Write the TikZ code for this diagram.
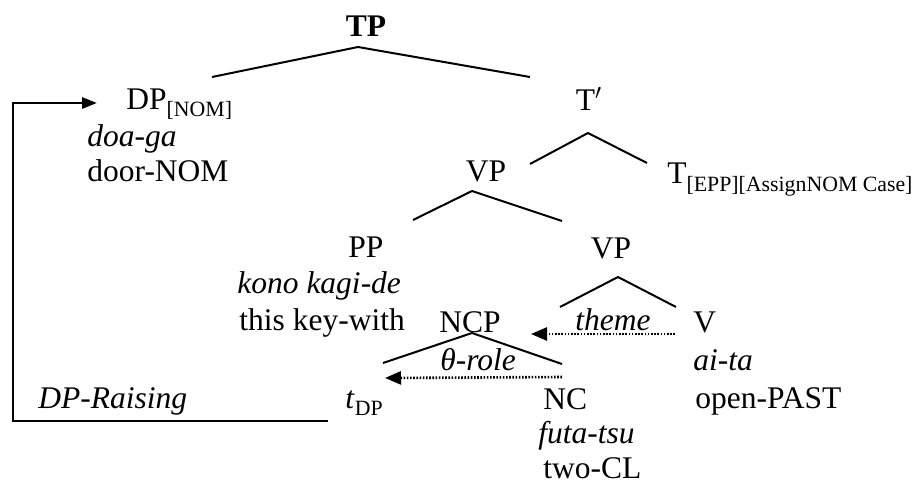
\documentclass[tikz,border=0pt]{standalone}
\usepackage{fontspec}
\setmainfont{Liberation Serif}
\usetikzlibrary{arrows.meta}
\newcommand{\feat}[1]{\raisebox{-0.23em}{\fontsize{10.9}{12}\selectfont #1}}

\begin{document}
\begin{tikzpicture}[x=0.5pt, y=-0.5pt, every node/.style={font=\fontsize{15.75}{18}\selectfont, inner sep=0pt}, cat/.style={anchor=base}, word/.style={anchor=base west}, branch/.style={line width=1pt}, raise/.style={-{Triangle[length=7.5pt,width=5.5pt]}, line width=1.4pt}, role/.style={-{Triangle[length=8pt,width=6.5pt]}, line width=1.3pt, dash pattern=on 0.8pt off 0.8pt}]
\useasboundingbox (0,0) rectangle (912,482);
% labels of the tree
\node[cat] (TP) at (366,37) {\textbf{TP}};
\node[word] (DP) at (126,109) {DP\feat{[NOM]}};
\node[word] (doaga) at (87,146) {\textit{doa-ga}};
\node[word] (door) at (87,181) {door-NOM};
\node[cat] (Tbar) at (589,110) {T$'$};
\node[word] (T) at (667,184) {T\feat{[EPP][AssignNOM Case]}};
\node[cat] (VPa) at (486,181) {VP};
\node[cat] (PP) at (366,257) {PP};
\node[word] (kono) at (237,293) {\textit{kono kagi-de}};
\node[word] (thiskey) at (239,330) {this key-with};
\node[cat] (VPb) at (611,258) {VP};
\node[cat] (NCP) at (470,332) {NCP};
\node[word] (V) at (693,332) {V};
\node[word] (aita) at (693,370) {\textit{ai-ta}};
\node[word] (open) at (695,408) {open-PAST};
\node[word] (NC) at (543,409) {NC};
\node[word] (futa) at (538,443) {\textit{futa-tsu}};
\node[word] (twocl) at (543,478) {two-CL};
\node[word] (tDP) at (345,408) {\textit{t}\feat{DP}};
\node[word] (raising) at (38,408) {\textit{DP-Raising}};
\node[word] (theme) at (575,330) {\textit{theme}};
\node[word] (trole) at (440,370) {\textit{θ-role}};
% branch points
\coordinate (tp-a) at (358,47);
\coordinate (tp-l) at (212,77);
\coordinate (tp-r) at (530,77);
\coordinate (tb-a) at (588,133);
\coordinate (tb-l) at (530,164);
\coordinate (tb-r) at (647,163);
\coordinate (va-a) at (472,191);
\coordinate (va-l) at (413,220);
\coordinate (va-r) at (562,221);
\coordinate (vb-a) at (618,277);
\coordinate (vb-l) at (560,307);
\coordinate (vb-r) at (676,307);
\coordinate (ncp-a) at (472,333);
\coordinate (ncp-l) at (383,363);
\coordinate (ncp-r) at (562,364);
\draw[branch] (tp-l) -- (tp-a) -- (tp-r);
\draw[branch] (tb-l) -- (tb-a) -- (tb-r);
\draw[branch] (va-l) -- (va-a) -- (va-r);
\draw[branch] (vb-l) -- (vb-a) -- (vb-r);
\draw[branch] (ncp-l) -- (ncp-a) -- (ncp-r);
% movement and roles
\coordinate (rise-s) at (328,421);
\coordinate (rise-c) at (13,421);
\coordinate (rise-e) at (97,103);
\draw[raise] (rise-s) -- (rise-c) |- (rise-e);
\coordinate (theme-s) at (675,334);
\coordinate (theme-e) at (531,334);
\draw[role] (theme-s) -- (theme-e);
\coordinate (trole-s) at (562,377);
\coordinate (trole-e) at (385,378);
\draw[role] (trole-s) -- (trole-e);
\end{tikzpicture}
\end{document}
